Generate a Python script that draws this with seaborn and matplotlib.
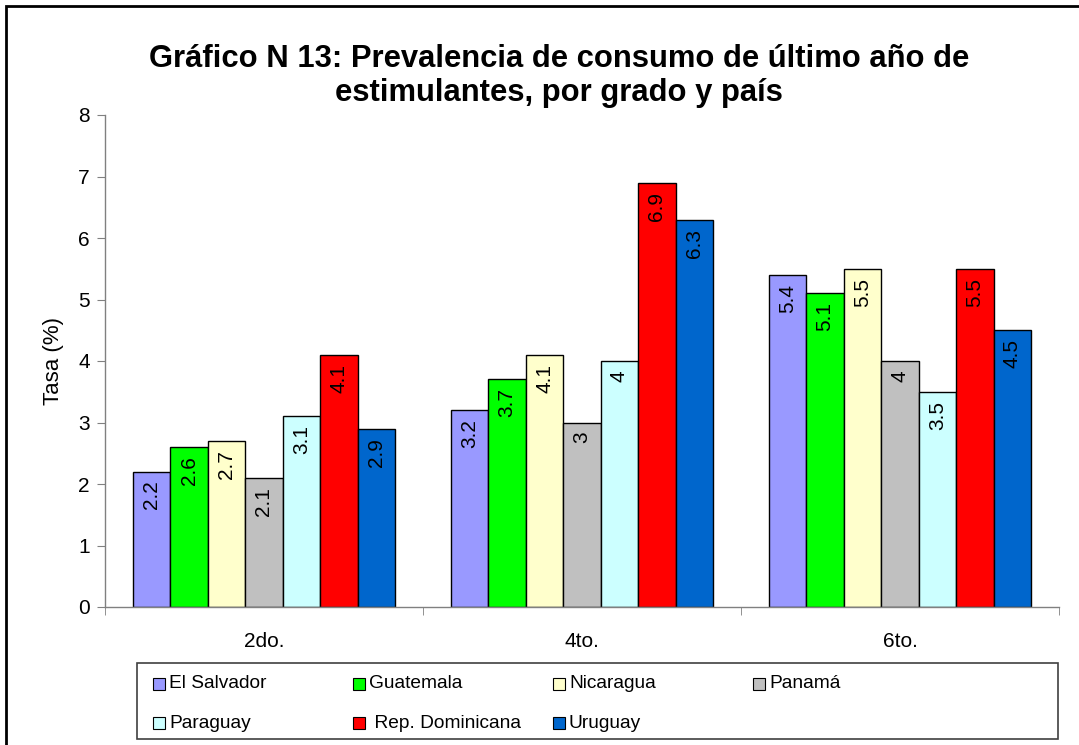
import numpy as np
import pandas as pd
import matplotlib
matplotlib.use("Agg")
import matplotlib.pyplot as plt
import seaborn as sns
from matplotlib.patches import Rectangle

# datos
grados = ["2do.", "4to.", "6to."]
paises = ["El Salvador", "Guatemala", "Nicaragua", "Panamá",
          "Paraguay", "Rep. Dominicana", "Uruguay"]
el_salvador = [2.2, 3.2, 5.4]
guatemala = [2.6, 3.7, 5.1]
nicaragua = [2.7, 4.1, 5.5]
panama = [2.1, 3.0, 4.0]
paraguay = [3.1, 4.0, 3.5]
rep_dominicana = [4.1, 6.9, 5.5]
uruguay = [2.9, 6.3, 4.5]
colores = ["#9999FF", "#00FF00", "#FFFFCC", "#C0C0C0",
           "#CCFFFF", "#FF0000", "#0066CC"]

series = [el_salvador, guatemala, nicaragua, panama,
          paraguay, rep_dominicana, uruguay]
df = pd.DataFrame([(g, p, v) for p, vals in zip(paises, series)
                   for g, v in zip(grados, vals)],
                  columns=["grado", "pais", "tasa"])

sns.set_style("white")
plt.rcParams["font.family"] = ["Liberation Sans", "DejaVu Sans"]
plt.rcParams["text.color"] = "black"
plt.rcParams["axes.labelcolor"] = "black"
plt.rcParams["xtick.color"] = "black"
plt.rcParams["ytick.color"] = "black"

FS = 13.8

W, H = 1079, 745
fig = plt.figure(figsize=(W / 100, H / 100), dpi=100)
ax = fig.add_axes([105 / W, (H - 607) / H, (1059 - 105) / W, (607 - 115) / H])

sns.barplot(data=df, x="grado", y="tasa", hue="pais", hue_order=paises,
            order=grados, palette=colores, width=0.825, gap=0,
            edgecolor="black", linewidth=1.0, saturation=1, legend=False,
            errorbar=None, ax=ax)

# etiquetas dentro de las barras
for cont in ax.containers:
    for bar in cont:
        h = bar.get_height()
        ax.annotate(f"{h:g}", (bar.get_x() + bar.get_width() / 2, h),
                    xytext=(0, -6.5), textcoords="offset points",
                    rotation=90, ha="center", va="top", fontsize=15)

ax.set_ylim(0, 8)
ax.set_xlim(-0.5, 2.5)
ax.set_yticks(range(0, 9))
ax.set_xlabel("")
ax.set_ylabel("Tasa (%)", fontsize=16, labelpad=10)
ax.tick_params(axis="y", labelsize=15, length=6, color="#808080",
               direction="out", left=True, pad=5)
ax.tick_params(axis="x", which="major", labelsize=15, length=0, pad=18)
ax.set_xticks([-0.5, 0.5, 1.5, 2.5], minor=True)
ax.tick_params(axis="x", which="minor", length=6, color="#808080",
               direction="out", bottom=True)
for side in ["top", "right"]:
    ax.spines[side].set_visible(False)
for side in ["left", "bottom"]:
    ax.spines[side].set_color("#808080")
    ax.spines[side].set_linewidth(1.0)

fig.text(559 / W, 1 - 76 / H,
         "Gráfico N 13: Prevalencia de consumo de último año de\n"
         "estimulantes, por grado y país",
         ha="center", va="center", fontsize=22.3, fontweight="bold",
         linespacing=1.2)

# leyenda
fig.patches.append(Rectangle((137 / W, 1 - 739 / H), (1058 - 137) / W,
                             (739 - 663) / H, transform=fig.transFigure,
                             fill=False, edgecolor="#404040", linewidth=1.2))
for i, (p, c) in enumerate(zip(paises, colores)):
    col, row = i % 4, i // 4
    x0 = 153 + col * 200
    yc = 684 + row * 39
    fig.patches.append(Rectangle((x0 / W, 1 - (yc + 6) / H), 12 / W, 12 / H,
                                 transform=fig.transFigure, facecolor=c,
                                 edgecolor="black", linewidth=0.8))
    lab = " " + p if p == "Rep. Dominicana" else p
    fig.text((x0 + 16) / W, 1 - yc / H, lab, ha="left", va="center",
             fontsize=FS)

# marco
fig.patches.append(Rectangle((6 / W, -0.1), 1.2, 1 - 6 / H + 0.1,
                             transform=fig.transFigure, fill=False,
                             edgecolor="black", linewidth=2))

fig.savefig("out.png", dpi=100)
